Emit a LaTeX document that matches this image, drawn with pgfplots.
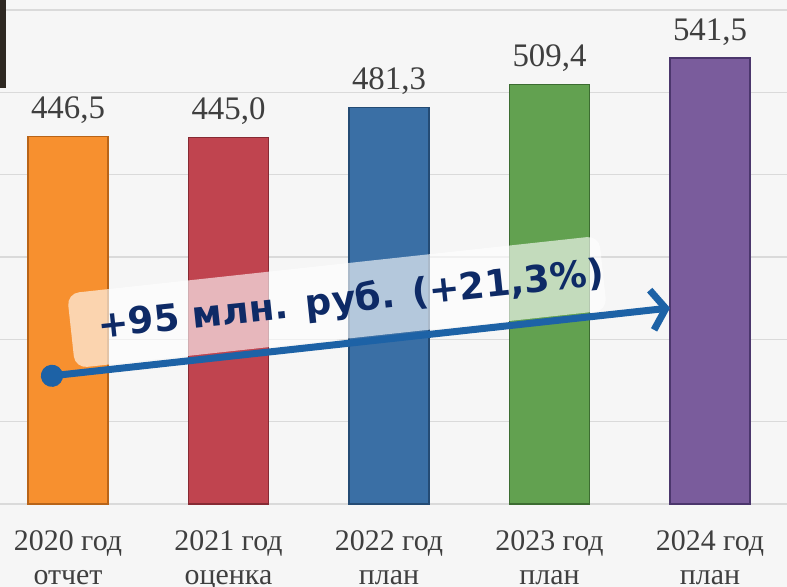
\documentclass[border=0pt]{standalone}
\usepackage{fontspec}
\setmainfont{Liberation Serif}
\newfontfamily\boxfont{DejaVu Sans}
\usepackage{pgfplots}
\pgfplotsset{compat=1.18}
\usetikzlibrary{arrows.meta}
\definecolor{bgc}{HTML}{F6F6F6}
\definecolor{gridc}{HTML}{DADADA}
\definecolor{labc}{HTML}{3F3F3F}
\definecolor{c1}{HTML}{F7902F}\definecolor{d1}{HTML}{B86418}
\definecolor{c2}{HTML}{C0444F}\definecolor{d2}{HTML}{862A33}
\definecolor{c3}{HTML}{3A6FA5}\definecolor{d3}{HTML}{244B74}
\definecolor{c4}{HTML}{62A150}\definecolor{d4}{HTML}{3C6C31}
\definecolor{c5}{HTML}{7A5C9C}\definecolor{d5}{HTML}{4B366C}
\definecolor{navyc}{HTML}{0E2A66}
\definecolor{arrowc}{HTML}{1D62A6}
\definecolor{darkc}{HTML}{2E2822}
\begin{document}
\begin{tikzpicture}
\useasboundingbox (0,-83bp) rectangle (787bp,504bp);
\clip (0,-83bp) rectangle (787bp,504bp);
\fill[bgc] (0,-83bp) rectangle (787bp,504bp);
\begin{axis}[
  at={(0,0)}, anchor=south west,
  scale only axis, width=787bp, height=504bp,
  xmin=-0.4237, xmax=4.4797, ymin=0, ymax=612,
  axis line style={draw=none},
  major tick length=0pt,
  ytick={0,100,...,600}, yticklabels={},
  ymajorgrids, grid style={gridc, line width=1.4bp},
  xtick={0,1,2,3,4},
  xticklabels={{2020 год\\отчет},{2021 год\\оценка},{2022 год\\план},{2023 год\\план},{2024 год\\план}},
  xticklabel style={anchor=north, inner sep=0pt, align=center, text=labc, yshift=-26bp,
    font=\fontsize{30}{35}\selectfont},
  ybar, bar width=80bp, bar shift=0pt,
  /pgf/number format/assume math mode=true,
  /pgf/number format/use comma,
  /pgf/number format/fixed,
  /pgf/number format/fixed zerofill,
  /pgf/number format/precision=1,
  nodes near coords,
  nodes near coords style={anchor=base, yshift=18bp, inner sep=0pt, text=labc,
    font=\fontsize{33}{36}\selectfont},
  clip=false,
]
\addplot[fill=c1, draw=d1, line width=1.5bp] coordinates {(0,446.5)};
\addplot[fill=c2, draw=d2, line width=1.5bp] coordinates {(1,445.0)};
\addplot[fill=c3, draw=d3, line width=1.5bp] coordinates {(2,481.3)};
\addplot[fill=c4, draw=d4, line width=1.5bp] coordinates {(3,509.4)};
\addplot[fill=c5, draw=d5, line width=1.5bp] coordinates {(4,541.5)};
\fill[darkc] (rel axis cs:0,1) rectangle (rel axis cs:0.0076,0.825);
\node[rotate=6.2, fill=white, fill opacity=0.62, rounded corners=12bp,
  minimum width=535bp, minimum height=75bp] at (axis cs:1.676,245.3) {};
\node[rotate=6, text=navyc, inner sep=0pt, font=\boxfont\bfseries\fontsize{37}{40}\selectfont]
  at (axis cs:1.763,246.5) {+95 млн. руб. (+21,3\%)};
\draw[arrowc, line width=7bp, line cap=round,
  {Circle[length=22bp,width=22bp]}-{Straight Barb[length=14bp,width=40bp]}]
  (axis cs:-0.1683,154.2) -- (axis cs:3.751,238);
\end{axis}
\end{tikzpicture}
\end{document}
